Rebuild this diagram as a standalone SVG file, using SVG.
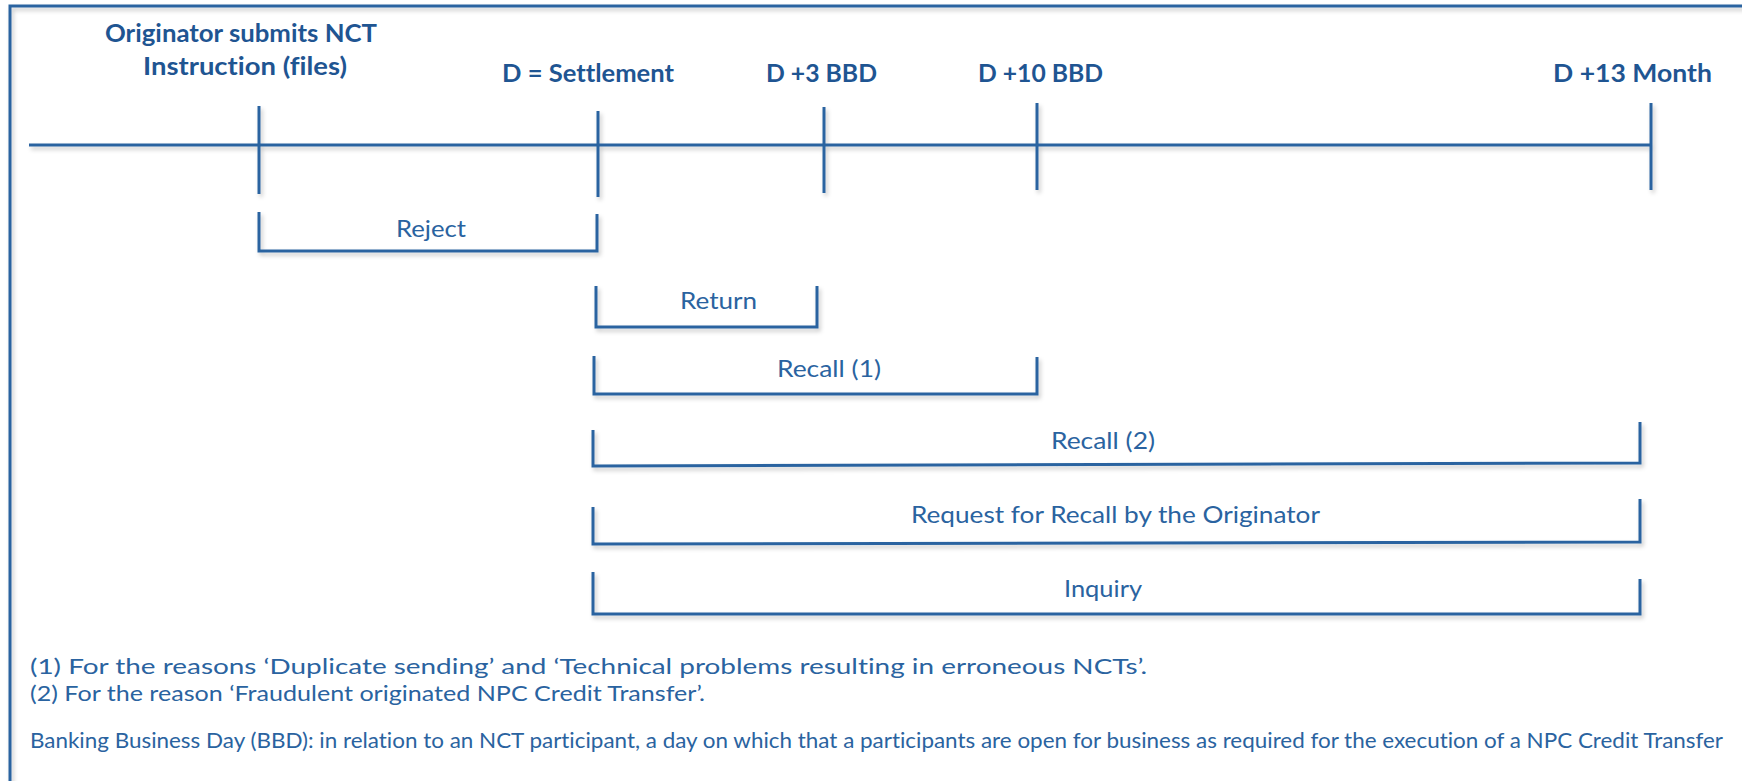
<svg xmlns="http://www.w3.org/2000/svg" width="1742" height="781" viewBox="0 0 1742 781">
  <defs>
    <filter id="soft" x="-5%" y="-50%" width="110%" height="200%">
      <feDropShadow dx="2" dy="3" stdDeviation="2" flood-color="#000" flood-opacity="0.22"/>
    </filter>
    <style>
      text { font-family: Lato, "Liberation Sans", sans-serif; font-variant-ligatures: none; }
      .ln { fill: none; stroke: #2a64a0; stroke-width: 3; stroke-linecap: butt; stroke-linejoin: miter; }
      .hd { font-weight: bold; font-size: 25px; fill: #1f5592; text-anchor: middle; }
      .lb { font-size: 23px; fill: #2a63a0; text-anchor: middle; }
      .ft { font-size: 21px; fill: #2a63a0; }
    </style>
  </defs>
  <rect width="1742" height="781" fill="#ffffff"/>

  <!-- frame -->
  <rect id="frame" x="10" y="6" width="1800" height="900" fill="none" stroke="#2a64a0" stroke-width="3" filter="url(#soft)"/>

  <!-- milestone headings -->
  <g id="node-originator">
    <text class="hd" x="241" y="42" textLength="272" lengthAdjust="spacingAndGlyphs">Originator submits NCT</text>
    <text class="hd" x="245" y="75" textLength="204" lengthAdjust="spacingAndGlyphs">Instruction (files)</text>
  </g>
  <g id="node-settlement">
    <text class="hd" x="588" y="82" textLength="172" lengthAdjust="spacingAndGlyphs">D = Settlement</text>
  </g>
  <g id="node-d3">
    <text class="hd" x="821.5" y="82" textLength="111" lengthAdjust="spacingAndGlyphs">D +3 BBD</text>
  </g>
  <g id="node-d10">
    <text class="hd" x="1040.5" y="82" textLength="125" lengthAdjust="spacingAndGlyphs">D +10 BBD</text>
  </g>
  <g id="node-d13m">
    <text class="hd" x="1632.5" y="82" textLength="159" lengthAdjust="spacingAndGlyphs">D +13 Month</text>
  </g>

  <!-- timeline axis and ticks -->
  <g id="connectors" class="ln" filter="url(#soft)">
    <line x1="29" y1="145" x2="1652" y2="145"/>
    <line x1="259" y1="106" x2="259" y2="194"/>
    <line x1="598" y1="111" x2="598" y2="197"/>
    <line x1="824" y1="107" x2="824" y2="193"/>
    <line x1="1037" y1="103" x2="1037" y2="190"/>
    <line x1="1651" y1="103" x2="1651" y2="190"/>
  </g>

  <!-- period brackets -->
  <g id="node-reject">
    <polyline class="ln" filter="url(#soft)" points="259,212 259,251 597,251 597,214"/>
    <text class="lb" x="431" y="237" textLength="70" lengthAdjust="spacingAndGlyphs">Reject</text>
  </g>
  <g id="node-return">
    <polyline class="ln" filter="url(#soft)" points="596,286 596,327 817,327 817,286"/>
    <text class="lb" x="718.5" y="309" textLength="77" lengthAdjust="spacingAndGlyphs">Return</text>
  </g>
  <g id="node-recall1">
    <polyline class="ln" filter="url(#soft)" points="594,356 594,394 1037,394 1037,357"/>
    <text class="lb" x="829" y="377" textLength="104" lengthAdjust="spacingAndGlyphs">Recall (1)</text>
  </g>
  <g id="node-recall2">
    <polyline class="ln" filter="url(#soft)" points="593,430 593,466 1640,463 1640,422"/>
    <text class="lb" x="1103" y="449" textLength="104" lengthAdjust="spacingAndGlyphs">Recall (2)</text>
  </g>
  <g id="node-rfro">
    <polyline class="ln" filter="url(#soft)" points="593,507 593,544 1640,542 1640,499"/>
    <text class="lb" x="1115.5" y="523" textLength="409" lengthAdjust="spacingAndGlyphs">Request for Recall by the Originator</text>
  </g>
  <g id="node-inquiry">
    <polyline class="ln" filter="url(#soft)" points="593,572 593,614 1640,614 1640,579"/>
    <text class="lb" x="1103" y="597" textLength="78" lengthAdjust="spacingAndGlyphs">Inquiry</text>
  </g>

  <!-- footnotes -->
  <g id="notes">
    <text class="ft" x="30" y="674" font-size="23" textLength="1117" lengthAdjust="spacingAndGlyphs">(1) For the reasons ‘Duplicate sending’ and ‘Technical problems resulting in erroneous NCTs’.</text>
    <text class="ft" x="30" y="701" font-size="23" textLength="675" lengthAdjust="spacingAndGlyphs">(2) For the reason ‘Fraudulent originated NPC Credit Transfer’.</text>
    <text class="ft" x="30" y="748" textLength="1693" lengthAdjust="spacingAndGlyphs">Banking Business Day (BBD): in relation to an NCT participant, a day on which that a participants are open for business as required for the execution of a NPC Credit Transfer</text>
  </g>
</svg>
